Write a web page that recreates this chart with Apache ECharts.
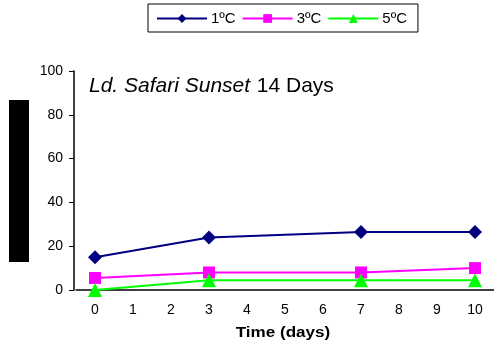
<!DOCTYPE html>
<html>
<head>
<meta charset="utf-8">
<script src="https://cdn.jsdelivr.net/npm/echarts@6/dist/echarts.min.js"></script>
<style>html,body{margin:0;padding:0;background:#fff}#c{width:494px;height:353px}</style>
</head>
<body>
<div id="c"></div>
<script>
const categories = ['0','1','2','3','4','5','6','7','8','9','10'];
const seriesNames = ['1ºC','3ºC','5ºC'];
const s1 = [15, null, null, 24, null, null, null, 26.5, null, null, 26.5];
const s3 = [5.5, null, null, 8, null, null, null, 8, null, null, 10];
const s5 = [0, null, null, 4.5, null, null, null, 4.5, null, null, 4.5];
const xAxisTitle = 'Time (days)';
const titleItalic = 'Ld. Safari Sunset';
const titleNormal = '14 Days';

const font = 'Liberation Sans, Arial, sans-serif';
const chart = echarts.init(document.getElementById('c'), null, {renderer:'canvas'});
const mk = (name, data, color, symbol, size) => ({
  name, type:'line', data, connectNulls:true, symbol, symbolSize:size,
  lineStyle:{color, width:2}, itemStyle:{color}, animation:false
});
chart.setOption({
  animation:false,
  legend:{
    left:148, top:4,
    data: seriesNames,
    itemWidth:50, itemHeight:11, itemGap:6,
    borderColor:'#000', borderWidth:1, padding:[7,11,6,8],
    textStyle:{fontFamily:font, fontSize:15, color:'#000', padding:[0,0,0,-1]}
  },
  grid:{left:76, top:71, width:421, height:219, containLabel:false},
  xAxis:{
    type:'category', data:categories, boundaryGap:true,
    axisLine:{lineStyle:{color:'#000', width:1.5}},
    axisTick:{show:false},
    axisLabel:{fontFamily:font, fontSize:14, color:'#000', margin:13}
  },
  yAxis:{
    type:'value', min:0, max:100, interval:20, offset:2,
    axisLine:{show:true, lineStyle:{color:'#000', width:1.5}},
    axisTick:{show:true, length:5, lineStyle:{color:'#000'}},
    axisLabel:{fontFamily:font, fontSize:14, color:'#000', margin:11},
    splitLine:{show:false}
  },
  series:[
    mk(seriesNames[0], s1, '#000080', 'diamond', 14),
    mk(seriesNames[1], s3, '#FF00FF', 'rect', 12),
    mk(seriesNames[2], s5, '#00FF00', 'triangle', 14)
  ],
  graphic:[
    {type:'rect', shape:{x:9, y:100, width:20, height:162}, style:{fill:'#000'}},
    {type:'text', left:89, top:76, style:{
      rich:{i:{fontStyle:'italic', fontFamily:font, fontSize:21, fill:'#000'},
            n:{fontFamily:font, fontSize:21, fill:'#000'}},
      text:'{i|' + titleItalic + '}  {n|' + titleNormal + '}'
    }},
    {type:'text', x:283, y:333, scaleX:1.22, style:{
      text:xAxisTitle, x:0, y:0, align:'center', verticalAlign:'middle',
      fontFamily:font, fontSize:14, fontWeight:'bold', fill:'#000'
    }}
  ]
});
</script>
</body>
</html>
